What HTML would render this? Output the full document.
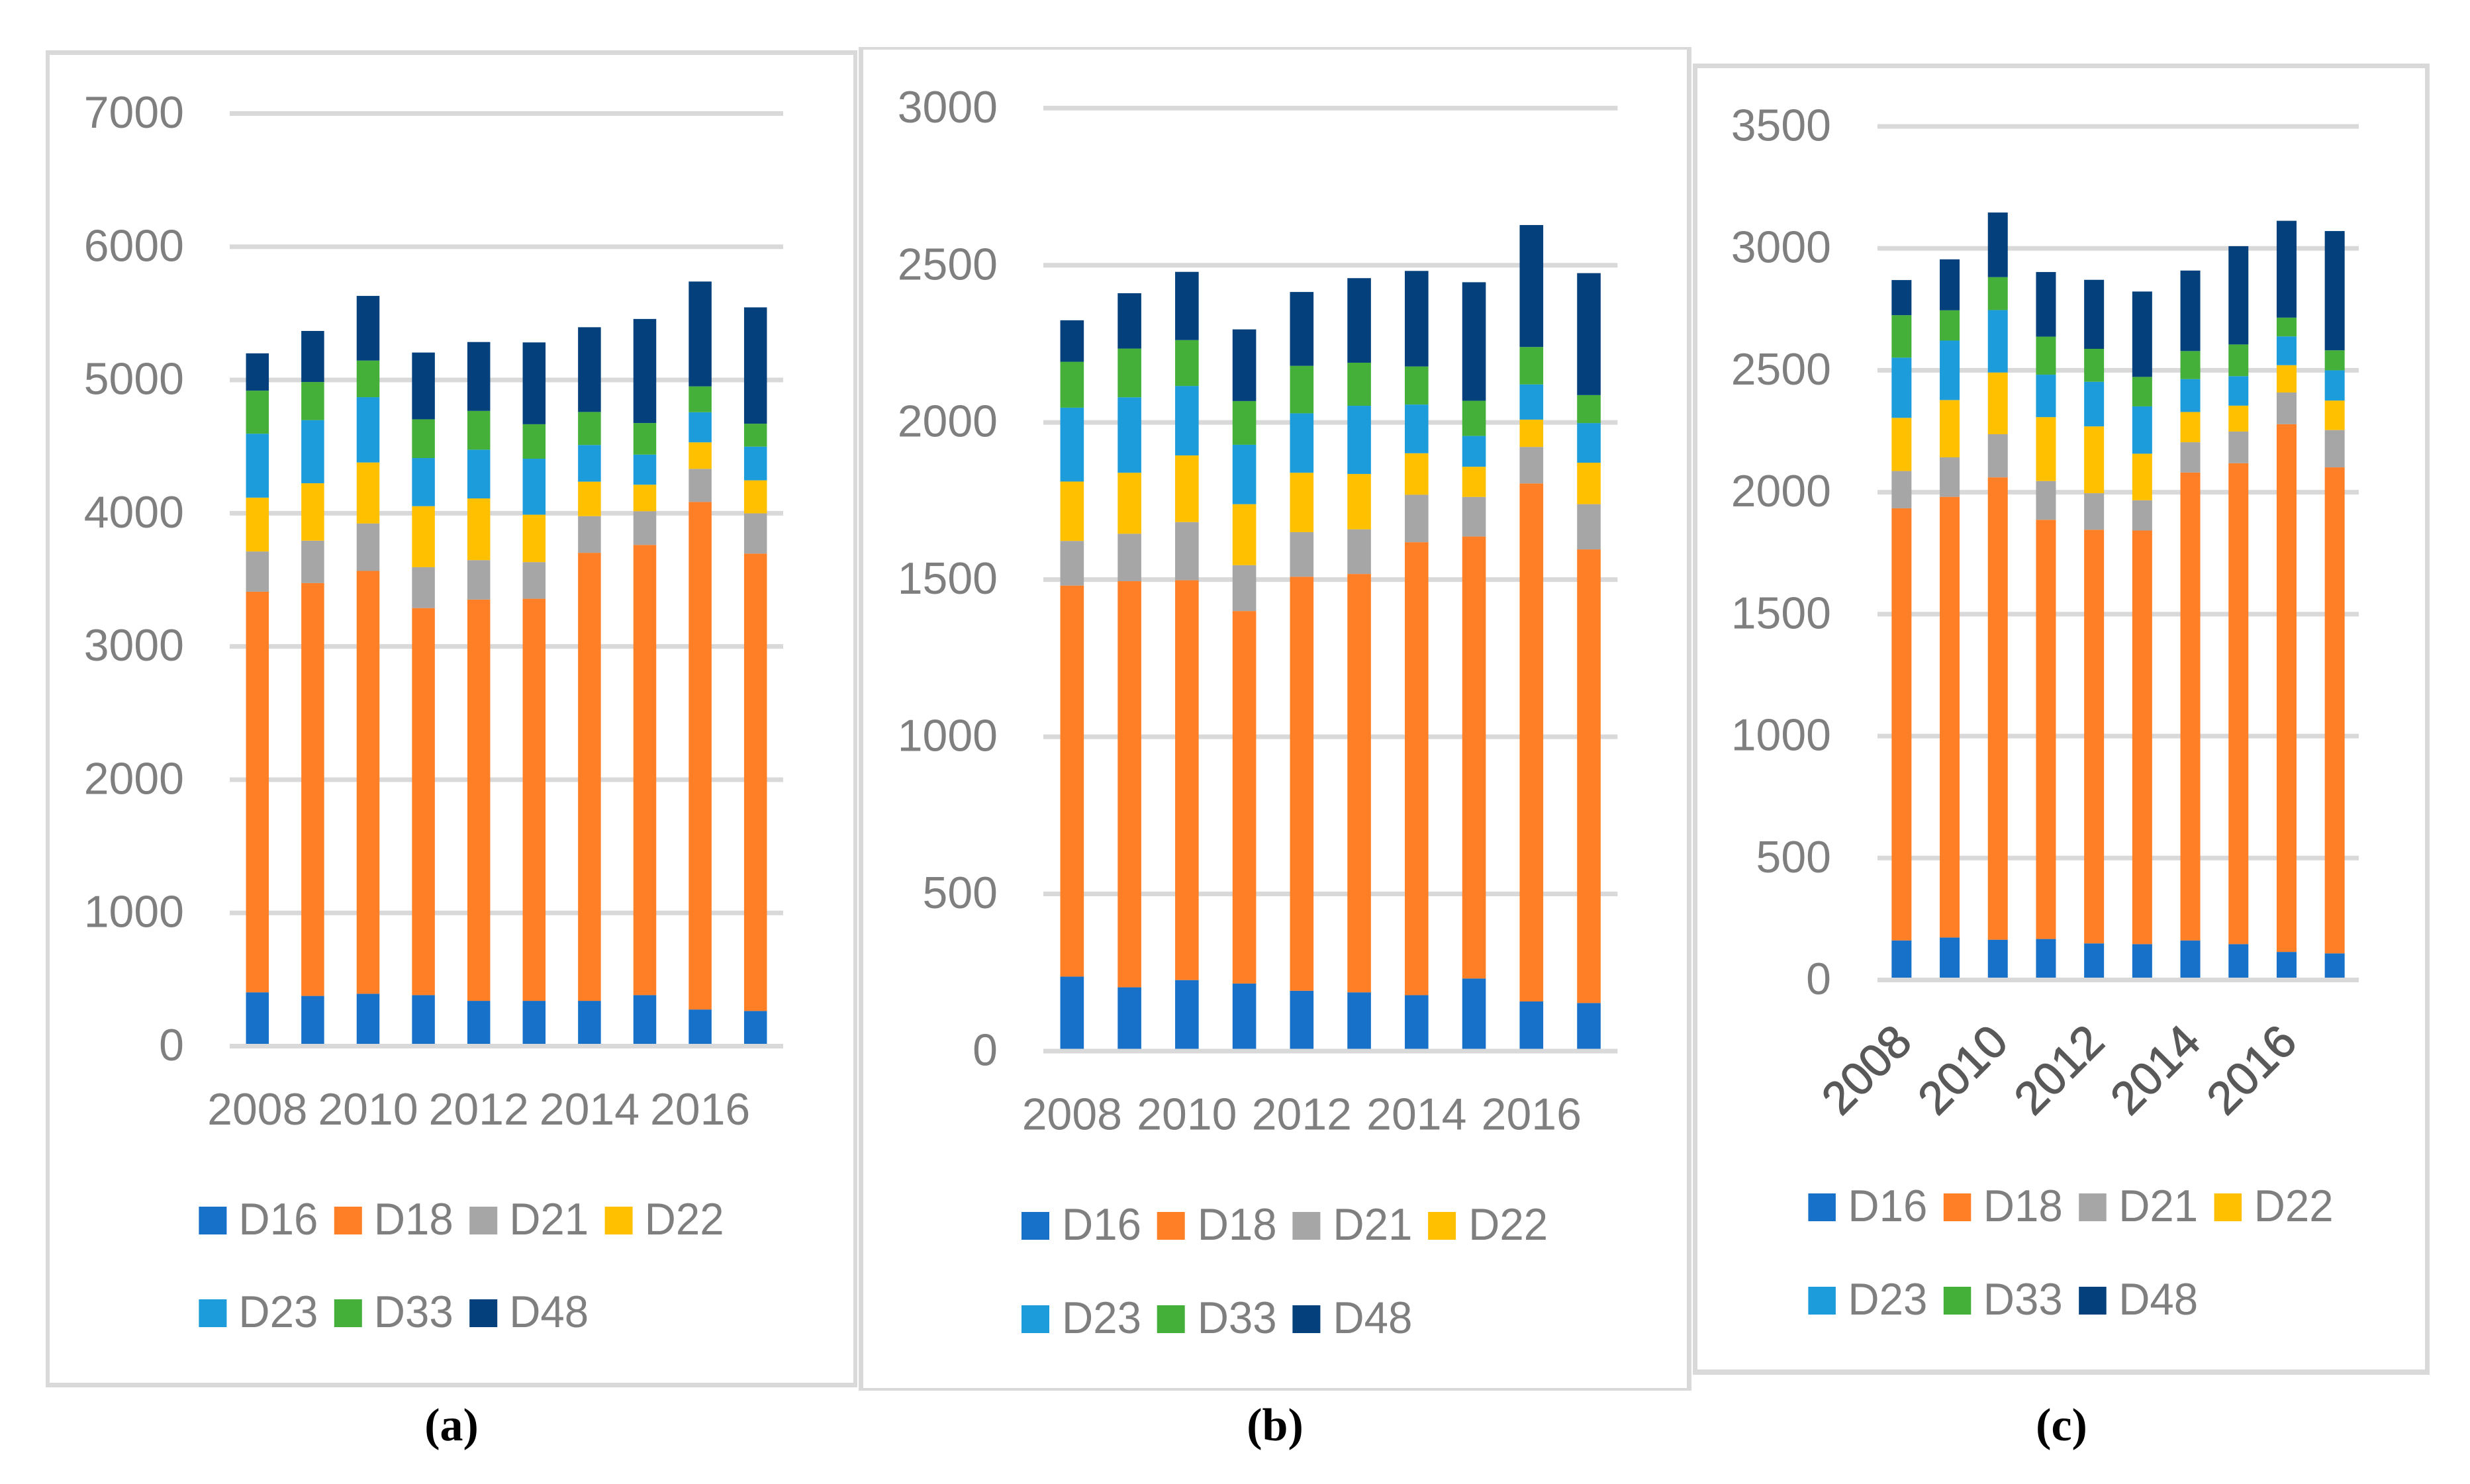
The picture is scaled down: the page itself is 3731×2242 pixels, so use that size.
<!DOCTYPE html>
<html lang="en">
<head>
<meta charset="utf-8">
<title>Stacked bar charts (a), (b), (c)</title>
<style>
html,body{margin:0;padding:0;background:#fff;}
svg{display:block;}
text{font-family:"Liberation Sans",sans-serif;}
.cap{font-family:"Liberation Serif",serif;font-weight:bold;font-size:70px;fill:#000;text-anchor:middle;}
</style>
</head>
<body>
<svg id="figure" xmlns="http://www.w3.org/2000/svg" width="3731" height="2242" viewBox="0 0 3731 2242">
<rect x="0" y="0" width="3731" height="2242" fill="#ffffff"/>
<text class="cap" x="682" y="2176">(a)</text>
<text class="cap" x="1926" y="2176">(b)</text>
<text class="cap" x="3114" y="2176">(c)</text>
</svg>
<script>
const years = [2008,2009,2010,2011,2012,2013,2014,2015,2016,2017];
const yearLabels = ['2008','','2010','','2012','','2014','','2016',''];
const seriesNames = ['D16','D18','D21','D22','D23','D33','D48'];
const seriesColors = ['#1771C9','#FF7F27','#A6A6A6','#FFC000','#1C9CDA','#44B03A','#03407C'];

const ticksA = [0,1000,2000,3000,4000,5000,6000,7000];
const aD16 = [404,377,393,383,340,340,340,383,275,264];
const aD18 = [3007,3099,3174,2905,3012,3018,3363,3379,3810,3433];
const aD21 = [302,318,356,307,296,275,275,253,248,302];
const aD22 = [404,431,458,458,463,356,259,199,199,248];
const aD23 = [480,474,490,361,366,420,275,226,226,253];
const aD33 = [323,286,275,291,291,259,248,237,194,172];
const aD48 = [280,383,485,501,517,614,636,781,787,873];

const ticksB = [0,500,1000,1500,2000,2500,3000];
const bD16 = [237,203,226,215,192,187,178,231,158,153];
const bD18 = [1244,1292,1272,1185,1317,1331,1441,1406,1648,1443];
const bD21 = [142,151,185,146,142,142,151,126,116,144];
const bD22 = [189,194,212,194,189,176,132,96,87,132];
const bD23 = [235,240,221,189,189,217,155,98,112,126];
const bD33 = [146,155,146,139,151,137,121,112,119,89];
const bD48 = [132,176,217,228,235,269,304,377,388,388];

const ticksC = [0,500,1000,1500,2000,2500,3000,3500];
const cD16 = [162,174,165,168,150,147,162,147,115,109];
const cD18 = [1772,1807,1896,1719,1696,1696,1919,1972,2164,1993];
const cD21 = [153,162,177,159,150,124,124,130,130,153];
const cD22 = [218,235,253,262,274,191,124,106,112,121];
const cD23 = [247,244,256,174,183,194,135,121,118,124];
const cD33 = [174,124,135,156,135,121,115,130,77,82];
const cD48 = [144,209,265,265,283,350,330,403,397,489];

const SVG_NS = 'http://www.w3.org/2000/svg';
const root = document.getElementById('figure');

function make(parent, tag, attrs, txt) {
  const el = document.createElementNS(SVG_NS, tag);
  for (const k in attrs) el.setAttribute(k, attrs[k]);
  if (txt !== undefined) el.textContent = txt;
  parent.appendChild(el);
  return el;
}

function drawPanel(id, series, ticks, cfg) {
  const g = make(root, 'g', {});
  
  

  const frame = make(g, 'rect', {x: cfg.ox0, y: cfg.oy0, width: cfg.ox1 - cfg.ox0, height: cfg.oy1 - cfg.oy0, fill: '#D9D9D9'});
  
  
  const inner = make(g, 'rect', {x: cfg.ix0, y: cfg.iy0, width: cfg.ix1 - cfg.ix0, height: cfg.iy1 - cfg.iy0, fill: '#ffffff'});
  
  

  const maxTick = ticks[ticks.length - 1];
  const yScale = v => cfg.y0 - (v / maxTick) * (cfg.y0 - cfg.yTop);
  const band = (cfg.x1 - cfg.x0) / years.length;
  const xScale = i => cfg.x0 + band * (i + 0.5);

  ticks.forEach(t => {
    if (t !== 0) {
      const line = make(g, 'rect', {x: cfg.x0, y: yScale(t) - 3.5, width: cfg.x1 - cfg.x0, height: 7, fill: '#D9D9D9'});
      
      
    }
    const lab = make(g, 'text', {x: cfg.tickRight, y: yScale(t) + 21.5, 'text-anchor': 'end', 'font-size': 68, fill: '#7F7F7F'}, String(t));
    
    
  });

  years.forEach((yr, i) => {
    let acc = 0;
    series.forEach((vals, s) => {
      const top = yScale(acc + vals[i]);
      const bot = yScale(acc);
      const bar = make(g, 'rect', {x: xScale(i) - cfg.barW / 2, y: top, width: cfg.barW, height: bot - top, fill: seriesColors[s]});
      
      
      acc += vals[i];
    });
  });

  const axis = make(g, 'rect', {x: cfg.x0, y: cfg.y0 - 3.5, width: cfg.x1 - cfg.x0, height: 7, fill: '#D9D9D9'});
  
  

  yearLabels.forEach((lbl, i) => {
    if (!lbl) return;
    let el;
    if (cfg.rotate) {
      const cx = xScale(i) - 53;
      const cy = cfg.xLabelY;
      el = make(g, 'text', {x: cx, y: cy + 24, 'text-anchor': 'middle', 'font-size': 70, fill: '#595959', stroke: '#595959', 'stroke-width': 1.2, transform: 'rotate(-45 ' + cx + ' ' + cy + ')'}, lbl);
    } else {
      el = make(g, 'text', {x: xScale(i), y: cfg.xLabelY, 'text-anchor': 'middle', 'font-size': 68, fill: '#7F7F7F'}, lbl);
    }
    
    
  });

  seriesNames.forEach((name, s) => {
    const col = s < 4 ? s : s - 4;
    const rowBase = s < 4 ? cfg.legBase1 : cfg.legBase2;
    const lx = cfg.legX + col * cfg.legStep;
    const entry = make(g, 'g', {});
    
    
    const sw = make(entry, 'rect', {x: lx, y: rowBase - 42, width: cfg.swW, height: 42, fill: seriesColors[s]});
    
    
    const tx = make(entry, 'text', {x: lx + cfg.legTextDx, y: rowBase, 'font-size': 68, fill: '#7F7F7F', textLength: 120, lengthAdjust: 'spacingAndGlyphs'}, name);
    
    
  });
}

drawPanel('a', [aD16,aD18,aD21,aD22,aD23,aD33,aD48], ticksA, {
  ox0:69, oy0:76, ox1:1295, oy1:2096, ix0:75, iy0:83, ix1:1289, iy1:2089,
  x0:347, x1:1183, y0:1580.5, yTop:171.5, barW:34.5,
  tickRight:278, xLabelY:1699, rotate:false,
  legX:300.4, legStep:204.4, swW:42, legTextDx:60, legBase1:1865, legBase2:2005
});
drawPanel('b', [bD16,bD18,bD21,bD22,bD23,bD33,bD48], ticksB, {
  ox0:1297, oy0:71, ox1:2555, oy1:2101, ix0:1304, iy0:75, ix1:2548, iy1:2097,
  x0:1576, x1:2443.4, y0:1588, yTop:163.3, barW:35.6,
  tickRight:1507, xLabelY:1706.5, rotate:false,
  legX:1543, legStep:204.7, swW:42, legTextDx:61, legBase1:1873, legBase2:2014
});
drawPanel('c', [cD16,cD18,cD21,cD22,cD23,cD33,cD48], ticksC, {
  ox0:2557, oy0:96, ox1:3670, oy1:2077, ix0:2564, iy0:103, ix1:3663, iy1:2069,
  x0:2836, x1:3563, y0:1480.5, yTop:191, barW:30,
  tickRight:2766, xLabelY:1616, rotate:true,
  legX:2731.4, legStep:204.4, swW:41.5, legTextDx:60, legBase1:1845, legBase2:1986
});
</script>
</body>
</html>
